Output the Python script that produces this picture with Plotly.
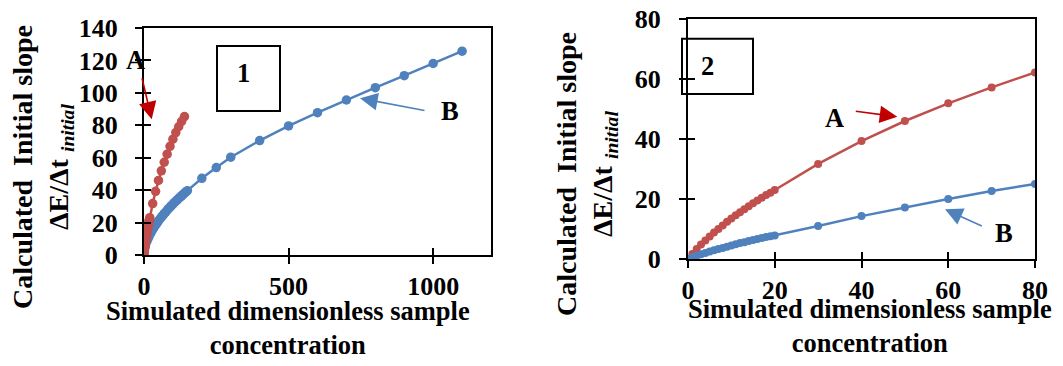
import plotly.graph_objects as go

# ---- data -------------------------------------------------------------
# Series A (same simulation shown in both panels; panel 1 extends further)
a_x = [0, 1, 2, 3, 4, 5, 6, 7, 8, 9, 10, 11, 12, 13, 14, 15, 16, 17, 18, 19, 20,
       30, 40, 50, 60, 70, 80, 90, 100, 110, 120, 130, 140]
a_y = [0, 1.7, 3.3, 4.8, 6.2, 7.5, 8.8, 10.0, 11.2, 12.4, 13.5, 14.6, 15.6, 16.6,
       17.6, 18.6, 19.5, 20.4, 21.3, 22.1, 23.0,
       31.7, 39.3, 46.0, 51.9, 57.2, 62.2, 67.0, 71.4, 75.5, 79.1, 82.4, 85.4]

# Series B, panel 1
b1_x = [0, 5, 10, 15, 20, 25, 30, 35, 40, 45, 50, 55, 60, 65, 70, 75, 80, 85, 90,
        95, 100, 105, 110, 115, 120, 125, 130, 135, 140, 145, 150,
        200, 250, 300, 400, 500, 600, 700, 800, 900, 1000, 1100]
b1_y = [0, 5.5, 8.3, 10.4, 12.3, 14.0, 15.6, 17.1, 18.4, 19.7, 21.0, 22.2, 23.3,
        24.4, 25.5, 26.5, 27.6, 28.6, 29.5, 30.4, 31.4, 32.3, 33.2, 34.0, 34.9,
        35.7, 36.5, 37.3, 38.1, 38.9, 39.7,
        47.3, 53.9, 60.3, 70.6, 79.6, 87.8, 95.6, 103.2, 110.6, 118.1, 125.7]

# Series B, panel 2
b2_x = [0, 1, 2, 3, 4, 5, 6, 7, 8, 9, 10, 11, 12, 13, 14, 15, 16, 17, 18, 19, 20,
        30, 40, 50, 60, 70, 80]
b2_y = [0, 0.6, 1.1, 1.6, 2.0, 2.5, 2.9, 3.3, 3.7, 4.1, 4.5, 4.9, 5.3, 5.6, 6.0,
        6.3, 6.7, 7.0, 7.3, 7.6, 7.8,
        11.0, 14.3, 17.2, 20.0, 22.7, 25.0]

# panel 2 shows series A only up to 80
a2_n = a_x.index(80) + 1

x1_ticks = [0, 500, 1000]
y1_ticks = [0, 20, 40, 60, 80, 100, 120, 140]
x2_ticks = [0, 20, 40, 60, 80]
y2_ticks = [0, 20, 40, 60, 80]

RED = "#C0504D"
BLUE = "#4F81BD"
W, H = 1063, 366
FONT = "Times New Roman, Liberation Serif, DejaVu Serif, serif"


def px(x):
    return x / W


def py(y):
    return 1 - y / H


fig = go.Figure()

fig.add_trace(go.Scatter(x=b1_x, y=b1_y, mode="lines+markers", xaxis="x", yaxis="y",
                         line=dict(color=BLUE, width=2.5),
                         marker=dict(color=BLUE, size=9.5)))
fig.add_trace(go.Scatter(x=a_x, y=a_y, mode="lines+markers", xaxis="x", yaxis="y",
                         line=dict(color=RED, width=2.5),
                         marker=dict(color=RED, size=9.5)))
fig.add_trace(go.Scatter(x=a_x[:a2_n], y=a_y[:a2_n], mode="lines+markers",
                         xaxis="x2", yaxis="y2",
                         line=dict(color=RED, width=2.5),
                         marker=dict(color=RED, size=8)))
fig.add_trace(go.Scatter(x=b2_x, y=b2_y, mode="lines+markers", xaxis="x2", yaxis="y2",
                         line=dict(color=BLUE, width=2.5),
                         marker=dict(color=BLUE, size=8)))
# empty traces that bring up the inner tick axes
for xa, ya in (("x3", "y3"), ("x4", "y4")):
    fig.add_trace(go.Scatter(x=[None], y=[None], xaxis=xa, yaxis=ya,
                             showlegend=False, hoverinfo="skip"))

tickfont = dict(family=FONT, size=26, color="black", weight="bold")

dom_x1 = [px(144), px(491)]
dom_y1 = [py(255), py(28)]
dom_x2 = [px(688), px(1035)]
dom_y2 = [py(259), py(19)]


def main_axis(rng, ticks, dom, anchor, standoff):
    return dict(range=rng, tickvals=ticks, domain=dom, anchor=anchor,
                showline=True, linecolor="black", linewidth=2, mirror=True,
                ticks="outside", ticklen=7, tickwidth=1.5, tickcolor="black",
                showgrid=False, zeroline=False, tickfont=tickfont,
                ticklabelstandoff=standoff, automargin=False, fixedrange=True)


def inner_axis(rng, ticks, overlay, anchor):
    return dict(range=rng, tickvals=ticks, overlaying=overlay, anchor=anchor,
                showline=False, ticks="inside", ticklen=7, tickwidth=1.5,
                tickcolor="black", showticklabels=False, showgrid=False,
                zeroline=False, automargin=False, fixedrange=True)


fig.update_layout(
    template="none",
    width=W, height=H,
    margin=dict(l=0, r=0, t=0, b=0, pad=0, autoexpand=False),
    paper_bgcolor="white", plot_bgcolor="white",
    showlegend=False,
    font=dict(family=FONT, color="black"),
    xaxis=main_axis([0, 1200], x1_ticks, dom_x1, "y", 0),
    yaxis=main_axis([0, 140], y1_ticks, dom_y1, "x", 12),
    xaxis2=main_axis([0, 80], x2_ticks, dom_x2, "y2", 0),
    yaxis2=main_axis([0, 80], y2_ticks, dom_y2, "x2", 13),
    xaxis3=inner_axis([0, 1200], x1_ticks, "x", "y3") | dict(domain=dom_x1),
    yaxis3=inner_axis([0, 140], y1_ticks, "y", "x3"),
    xaxis4=inner_axis([0, 80], x2_ticks, "x2", "y4") | dict(domain=dom_x2),
    yaxis4=inner_axis([0, 80], y2_ticks, "y2", "x4"),
)

ytitle_font = dict(family=FONT, size=28, color="black", weight="bold")
label_font = dict(family=FONT, size=26.5, color="black", weight="bold")
ytitle = "Calculated  Initial slope<br>ΔE/Δt <sub><i>initial</i></sub>"
xtitle = "Simulated dimensionless sample<br>concentration"

annotations = [
    dict(text=ytitle, x=px(43), y=py(167), textangle=-90, font=ytitle_font),
    dict(text=ytitle, x=px(586), y=py(174), textangle=-90, font=ytitle_font),
    dict(text=xtitle, x=px(288), y=py(328), font=label_font),
    dict(text=xtitle, x=px(870), y=py(326), font=label_font),
    dict(text="A", x=px(135.5), y=py(60), font=label_font),
    dict(text="B", x=px(450), y=py(111), font=label_font),
    dict(text="1", x=px(243), y=py(73.5), font=label_font),
    dict(text="A", x=px(834), y=py(117.5), font=label_font),
    dict(text="B", x=px(1004), y=py(232.5), font=label_font),
    dict(text="2", x=px(707.5), y=py(66), font=label_font),
]
for a in annotations:
    fig.add_annotation(xref="paper", yref="paper", xanchor="center", yanchor="middle",
                       showarrow=False, **a)

# pointer arrows: head position, tail offset in pixels
arrows = [
    (151.7, 119.3, 141.7, 76.7, "#C00000"),
    (360.0, 98.3, 426.0, 110.7, BLUE),
    (897.3, 116.7, 854.3, 111.0, "#C00000"),
    (945.0, 209.3, 983.3, 226.7, BLUE),
]
for hx, hy, tx, ty, col in arrows:
    fig.add_annotation(xref="paper", yref="paper", x=px(hx), y=py(hy),
                       ax=tx - hx, ay=ty - hy, text="", showarrow=True,
                       arrowhead=2, arrowsize=2.2, arrowwidth=1.6, arrowcolor=col,
                       standoff=0, startstandoff=0)

# panel label boxes
for x0, y0, x1, y1 in ((217, 46, 280, 111), (682, 38.7, 753, 94)):
    fig.add_shape(type="rect", xref="paper", yref="paper",
                  x0=px(x0), x1=px(x1), y0=py(y1), y1=py(y0),
                  line=dict(color="black", width=2), fillcolor="rgba(0,0,0,0)")

fig.write_html("out.html")
